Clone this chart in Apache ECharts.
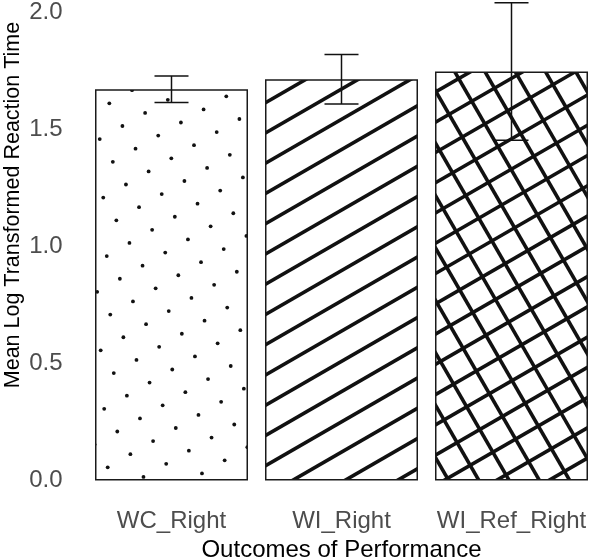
<!DOCTYPE html>
<html>
<head>
<meta charset="utf-8">
<script src="https://cdn.jsdelivr.net/npm/echarts@6/dist/echarts.min.js"></script>
<style>
  html, body { margin: 0; padding: 0; background: #fff; }
  #chart { width: 600px; height: 557px; }
</style>
</head>
<body>
<div id="chart"></div>
<script>
// data
const categories = ['WC_Right', 'WI_Right', 'WI_Ref_Right']
const meanValues = [1.672, 1.715, 1.748]
const stdErrors = [0.057, 0.106, 0.294]
const yTicks = [0, 0.5, 1.0, 1.5, 2.0]

const W = 600, H = 557
const FONT = '"Liberation Sans", Arial, sans-serif'
const INK = '#111'

// hatch patterns, drawn in page coords (grid rotated 30deg, step ~26px)
const STEP = 26.2
const ca = Math.cos(Math.PI / 6), sa = Math.sin(Math.PI / 6)
const U = [ca, -sa]   // along "/"
const V = [sa, ca]    // along "\"

function makeCanvas() {
  const c = document.createElement('canvas')
  c.width = W
  c.height = H
  const ctx = c.getContext('2d')
  ctx.fillStyle = '#fff'
  ctx.fillRect(0, 0, W, H)
  return [c, ctx]
}

function drawLines(ctx, px, py, dir, across) {
  ctx.strokeStyle = INK
  ctx.lineWidth = 3.6
  for (let k = -60; k <= 60; k++) {
    const x = px + across[0] * STEP * k
    const y = py + across[1] * STEP * k
    ctx.beginPath()
    ctx.moveTo(x - dir[0] * 1500, y - dir[1] * 1500)
    ctx.lineTo(x + dir[0] * 1500, y + dir[1] * 1500)
    ctx.stroke()
  }
}

const dotPattern = (() => {
  const [c, ctx] = makeCanvas()
  ctx.fillStyle = INK
  for (let i = -60; i <= 60; i++) {
    for (let j = -60; j <= 60; j++) {
      const x = 107.7 + STEP * (i * U[0] + j * V[0])
      const y = 467.3 + STEP * (i * U[1] + j * V[1])
      if (x < -5 || x > W + 5 || y < -5 || y > H + 5) continue
      ctx.beginPath()
      ctx.arc(x, y, 1.9, 0, Math.PI * 2)
      ctx.fill()
    }
  }
  return c
})()

const slashPattern = (() => {
  const [c, ctx] = makeCanvas()
  drawLines(ctx, 265, 224, U, V)
  return c
})()

const crossPattern = (() => {
  const [c, ctx] = makeCanvas()
  drawLines(ctx, 435, 213.3, U, V)
  drawLines(ctx, 468.3, 200, V, U)
  return c
})()

const patterns = [dotPattern, slashPattern, crossPattern]

const barData = meanValues.map((v, i) => ({
  value: v,
  itemStyle: {
    color: { image: patterns[i], repeat: 'no-repeat' },
    borderColor: '#1a1a1a',
    borderWidth: 1.5
  }
}))

const errData = meanValues.map((v, i) => [i, v - stdErrors[i], v + stdErrors[i]])

const chart = echarts.init(document.getElementById('chart'), null, { renderer: 'canvas' })

chart.setOption({
  animation: false,
  backgroundColor: '#fff',
  grid: { left: 86.5, right: 3.5, top: 12.5, bottom: 76.5, containLabel: false, outerBoundsMode: 'none' },
  xAxis: {
    type: 'category',
    data: categories,
    axisLine: { show: false },
    axisTick: { show: false },
    axisLabel: { color: '#4d4d4d', fontSize: 24, fontFamily: FONT, margin: 29, interval: 0, hideOverlap: false },
    name: 'Outcomes of Performance',
    nameLocation: 'middle',
    nameGap: 56,
    nameTextStyle: { color: '#000', fontSize: 24, fontFamily: FONT }
  },
  yAxis: {
    type: 'value',
    min: yTicks[0],
    max: yTicks[yTicks.length - 1],
    interval: 0.5,
    axisLine: { show: false },
    axisTick: { show: false },
    splitLine: { show: false },
    axisLabel: {
      color: '#4d4d4d',
      fontSize: 24,
      fontFamily: FONT,
      margin: 24,
      formatter: v => v.toFixed(1)
    }
  },
  graphic: [{
    type: 'text',
    x: 13,
    y: 205,
    rotation: Math.PI / 2,
    style: {
      text: 'Mean Log Transformed Reaction Time',
      font: '21.5px ' + FONT,
      fill: '#000',
      align: 'center',
      verticalAlign: 'middle'
    }
  }],
  series: [
    {
      type: 'bar',
      barWidth: '90%',
      data: barData
    },
    {
      type: 'custom',
      clip: false,
      z: 10,
      data: errData,
      encode: { x: 0, y: [1, 2] },
      renderItem: (params, api) => {
        const lo = api.coord([api.value(0), api.value(1)])
        const hi = api.coord([api.value(0), api.value(2)])
        const half = 17
        const style = { stroke: INK, lineWidth: 1.5 }
        return {
          type: 'group',
          children: [
            { type: 'line', shape: { x1: hi[0], y1: hi[1], x2: lo[0], y2: lo[1] }, style },
            { type: 'line', shape: { x1: hi[0] - half, y1: hi[1], x2: hi[0] + half, y2: hi[1] }, style },
            { type: 'line', shape: { x1: lo[0] - half, y1: lo[1], x2: lo[0] + half, y2: lo[1] }, style }
          ]
        }
      }
    }
  ]
})
</script>
</body>
</html>
